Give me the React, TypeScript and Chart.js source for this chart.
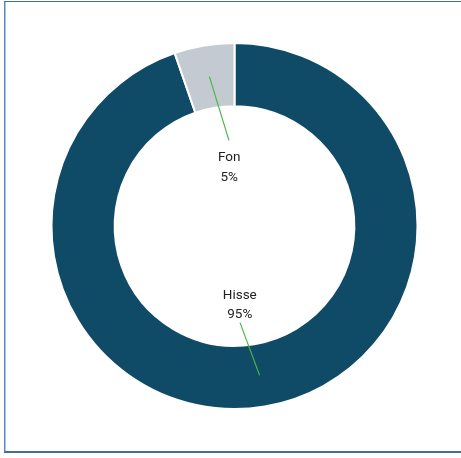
import React, { useEffect, useRef } from "react";
import { Chart, registerables } from "chart.js";

Chart.register(...registerables);

const categories = ["Hisse", "Fon"];
const values = [94.7, 5.3];
const segmentColors = ["#0f4a66", "#c3cad2"];

const leaderPlugin = {
  id: "leaderLabels",
  afterDatasetsDraw(chart: any) {
    const ctx = chart.ctx;
    const meta = chart.getDatasetMeta(0);
    meta.data.forEach((arc: any, i: number) => {
      const { x, y, startAngle, endAngle, innerRadius, outerRadius } = arc.getProps(
        ["x", "y", "startAngle", "endAngle", "innerRadius", "outerRadius"],
        true
      );
      const mid = (startAngle + endAngle) / 2;
      const c = Math.cos(mid);
      const s = Math.sin(mid);
      const rMid = (innerRadius + outerRadius) / 2;
      const ax = x + c * rMid;
      const ay = y + s * rMid;
      const ex = x + c * rMid * 0.22;
      const ey = y + 5.5 + s * rMid * 0.61;
      const lx = x + c * rMid * 0.21;
      const ly = y + 9 + s * rMid * 0.46;
      ctx.save();
      ctx.strokeStyle = "#4cb847";
      ctx.lineWidth = 1.2;
      ctx.beginPath();
      ctx.moveTo(ax, ay);
      ctx.lineTo(ex, ey);
      ctx.stroke();
      ctx.fillStyle = "#222222";
      ctx.font = "13.5px Roboto";
      ctx.textAlign = "center";
      ctx.textBaseline = "alphabetic";
      ctx.fillText(categories[i], lx, ly - 5);
      ctx.fillText(Math.round(values[i]) + "%", lx, ly + 14.5);
      ctx.restore();
    });
  },
};

export default function App() {
  const ref = useRef<HTMLCanvasElement>(null);
  useEffect(() => {
    if (!ref.current) return;
    const chart = new Chart(ref.current, {
      type: "doughnut",
      data: {
        labels: categories,
        datasets: [
          {
            data: values,
            backgroundColor: segmentColors,
            borderColor: "#ffffff",
            borderWidth: 2,
          },
        ],
      },
      options: {
        animation: false,
        responsive: false,
        cutout: "65.5%",
        layout: { padding: { left: 50.5, right: 42.5, top: 42, bottom: 48 } },
        plugins: { legend: { display: false }, tooltip: { enabled: false } },
      },
      plugins: [leaderPlugin],
    });
    return () => chart.destroy();
  }, []);
  return (
    <div style={{ position: "fixed", left: 0, top: 0, width: 461, height: 458, background: "#fff", overflow: "hidden" }}>
      <div
        style={{
          position: "absolute",
          left: 4,
          top: 1,
          width: 470,
          height: 449,
          borderTop: "1px solid #3d6ea6",
          borderBottom: "2px solid #3d6ea6",
          borderLeft: "1px solid #5a87bd",
          boxShadow: "inset 1px 0 0 #a9c6ea",
          boxSizing: "content-box",
        }}
      />
      <canvas ref={ref} width={461} height={458} style={{ position: "absolute", left: 0, top: 0, width: 461, height: 458 }} />
    </div>
  );
}
